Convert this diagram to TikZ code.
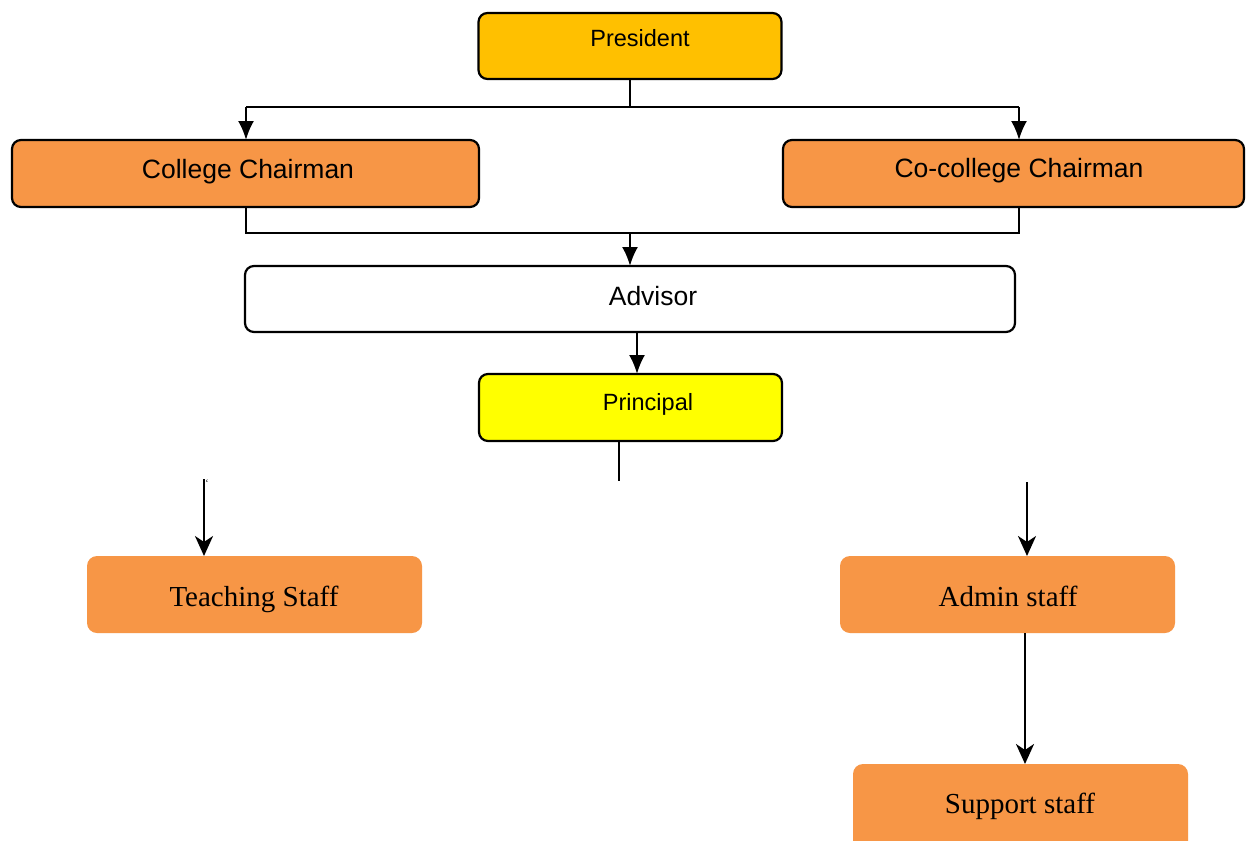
\documentclass[tikz,border=0pt]{standalone}
\usepackage{fontspec}
\setmainfont{Liberation Serif}
\newfontfamily\arial{Liberation Sans}
\usetikzlibrary{arrows.meta,calc}
\definecolor{amber}{HTML}{FFC000}
\definecolor{orangeacc}{HTML}{F79646}
\definecolor{yel}{HTML}{FFFF00}
\tikzset{
  topbox/.style={draw=black, line width=2.2pt, rounded corners=9pt, inner sep=0pt},
  staffbox/.style={fill=orangeacc, draw=none, rounded corners=10pt, inner sep=0pt},
  link/.style={line width=2.2pt},
  thinlink/.style={line width=1.4pt},
  tiparrow/.style={line width=2.2pt, -{Latex[length=19pt,width=16pt]}},
  stealtharrow/.style={line width=2.5pt, -{Stealth[length=20pt,width=18pt,inset=6pt]}},
  sanslbl/.style={font=\arial\fontsize{26.5}{30}\selectfont, inner sep=0pt, anchor=base},
  sanssm/.style={font=\arial\fontsize{23.5}{27}\selectfont, inner sep=0pt, anchor=base},
  seriflbl/.style={font=\fontsize{29}{33}\selectfont, inner sep=0pt, anchor=base}
}
\begin{document}
\begin{tikzpicture}[x=1pt,y=-1pt]
\useasboundingbox (0,0) rectangle (1246,840);
\fill[white] (0,0) rectangle (1246,840);

% boxes
\node[topbox, fill=amber, minimum width=303pt, minimum height=66pt] (pres) at (630,46) {};
\node[sanssm] (prest) at (640,47) {President};

\node[topbox, fill=orangeacc, minimum width=467pt, minimum height=67pt] (cc) at (245.5,173.5) {};
\node[sanslbl] (cct) at (248,178) {College Chairman};

\node[topbox, fill=orangeacc, minimum width=461pt, minimum height=67pt] (cco) at (1013.5,173.5) {};
\node[sanslbl] (ccot) at (1019,177) {Co-college Chairman};

\node[topbox, fill=white, minimum width=770pt, minimum height=66pt] (adv) at (630,299) {};
\node[sanslbl] (advt) at (653,305) {Advisor};

\node[topbox, fill=yel, minimum width=303pt, minimum height=67pt] (prin) at (630.5,407.5) {};
\node[sanssm] (print) at (648,410) {Principal};

\node[staffbox, minimum width=335pt, minimum height=77pt] (teach) at (254.5,594.5) {};
\node[seriflbl] (teacht) at (254,606) {Teaching Staff};

\node[staffbox, minimum width=335pt, minimum height=77pt] (admin) at (1007.5,594.5) {};
\node[seriflbl] (admint) at (1008,606) {Admin staff};

\node[staffbox, minimum width=335pt, minimum height=90pt] (supp) at (1020.5,809) {};
\node[seriflbl] (suppt) at (1020,813) {Support staff};

\node[font=\fontsize{10}{10}\selectfont, inner sep=0pt] (tick) at (207,483) {`};

% coordinates
\coordinate (b1) at (630,107);
\coordinate (b1l) at (246,107);
\coordinate (b1r) at (1019,107);
\coordinate (c1) at (246,140);
\coordinate (c2) at (1019,140);
\coordinate (b2l) at (246,233);
\coordinate (b2r) at (1019,233);
\coordinate (b2m) at (630,233);
\coordinate (ccb) at (246,207);
\coordinate (ccob) at (1019,207);
\coordinate (advtop) at (630,266);
\coordinate (advb) at (637,332);
\coordinate (print1) at (637,374);
\coordinate (prb) at (619,441);
\coordinate (pre) at (619,481);
\coordinate (ts) at (204,479);
\coordinate (te) at (204,556);
\coordinate (as) at (1027,482);
\coordinate (ae) at (1027,556);
\coordinate (ss) at (1025,633);
\coordinate (se) at (1025,764);

% connectors
\draw[thinlink] (pres.south) -- (b1);
\draw[link] (b1l) -- (b1r);
\draw[tiparrow] (b1l) -- (c1);
\draw[tiparrow] (b1r) -- (c2);
\draw[link] (ccb) -- (b2l) -- (b2r) -- (ccob);
\draw[tiparrow] (b2m) -- (advtop);
\draw[tiparrow] (advb) -- (print1);
\draw[thinlink] (prb) -- (pre);
\draw[stealtharrow] (ts) -- (te);
\draw[stealtharrow] (as) -- (ae);
\draw[stealtharrow] (ss) -- (se);
\end{tikzpicture}
\end{document}
